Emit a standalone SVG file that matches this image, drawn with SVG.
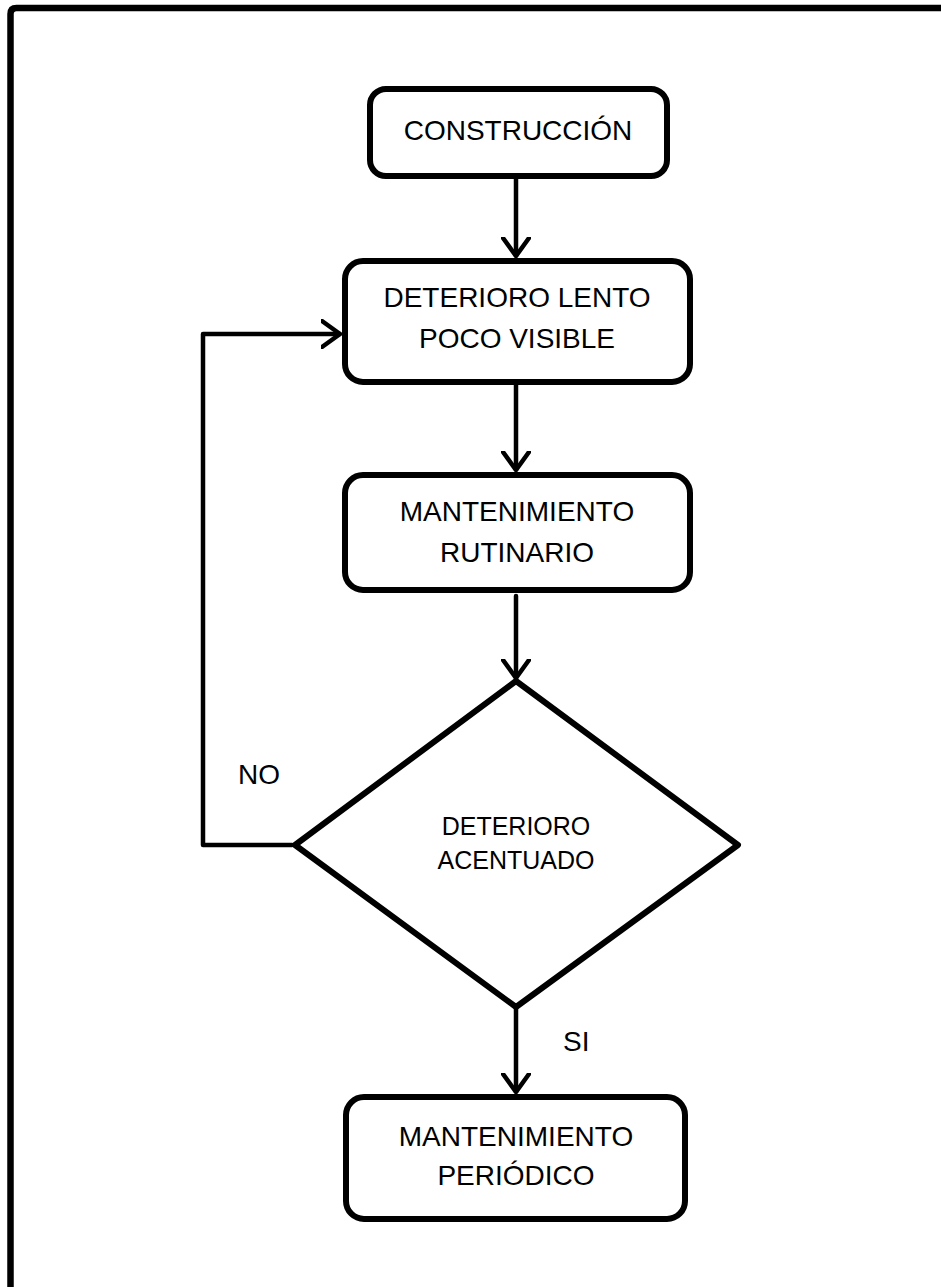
<svg xmlns="http://www.w3.org/2000/svg" width="941" height="1287" viewBox="0 0 941 1287">
<defs>
<style>
.box{fill:#fff;stroke:#000;stroke-width:6;}
.conn{fill:none;stroke:#000;stroke-width:4.5;stroke-linecap:round;stroke-linejoin:round;}
.lbl{font-family:"Liberation Sans",Arial,sans-serif;font-size:28px;fill:#000;text-anchor:middle;}
.small{font-size:25px;}
.free{text-anchor:start;}
</style>
<marker id="ah" viewBox="0 0 20 30" refX="19" refY="15" markerWidth="20" markerHeight="30" markerUnits="userSpaceOnUse" orient="auto">
<path d="M1,2 L19,15 L1,28" fill="none" stroke="#000" stroke-width="4.5" stroke-linecap="round" stroke-linejoin="round"/>
</marker>
</defs>
<rect width="941" height="1287" fill="#fff"/>
<path d="M10.5,1300 V14 Q10.5,8 16.5,8 H960" fill="none" stroke="#000" stroke-width="6.5"/>
<g id="connectors">
<path class="conn" d="M516,179 V256" marker-end="url(#ah)"/>
<path class="conn" d="M516,385 V470" marker-end="url(#ah)"/>
<path class="conn" d="M516,596 V678" marker-end="url(#ah)"/>
<path class="conn" d="M516,1008 V1092" marker-end="url(#ah)"/>
<path class="conn" d="M292,845 H203 V334 H340" marker-end="url(#ah)"/>
<text class="lbl free" x="238" y="784">NO</text>
<text class="lbl free" x="563" y="1051">SI</text>
</g>
<g id="construccion">
<rect class="box" x="370" y="89" width="297" height="87" rx="16"/>
<text class="lbl" x="518" y="140">CONSTRUCCIÓN</text>
</g>
<g id="deterioro-lento">
<rect class="box" x="345" y="261" width="345" height="121" rx="18"/>
<text class="lbl" x="517" y="307">DETERIORO LENTO</text>
<text class="lbl" x="517" y="348">POCO VISIBLE</text>
</g>
<g id="mantenimiento-rutinario">
<rect class="box" x="345" y="475" width="345" height="115" rx="18"/>
<text class="lbl" x="517" y="521">MANTENIMIENTO</text>
<text class="lbl" x="517" y="562">RUTINARIO</text>
</g>
<g id="deterioro-acentuado">
<polygon class="box" points="516,681 738,845 516,1007 295,845" stroke-linejoin="round"/>
<text class="lbl small" x="516" y="835">DETERIORO</text>
<text class="lbl small" x="516" y="869">ACENTUADO</text>
</g>
<g id="mantenimiento-periodico">
<rect class="box" x="346" y="1097" width="339" height="122" rx="18"/>
<text class="lbl" x="516" y="1146">MANTENIMIENTO</text>
<text class="lbl" x="516" y="1185">PERIÓDICO</text>
</g>
</svg>
